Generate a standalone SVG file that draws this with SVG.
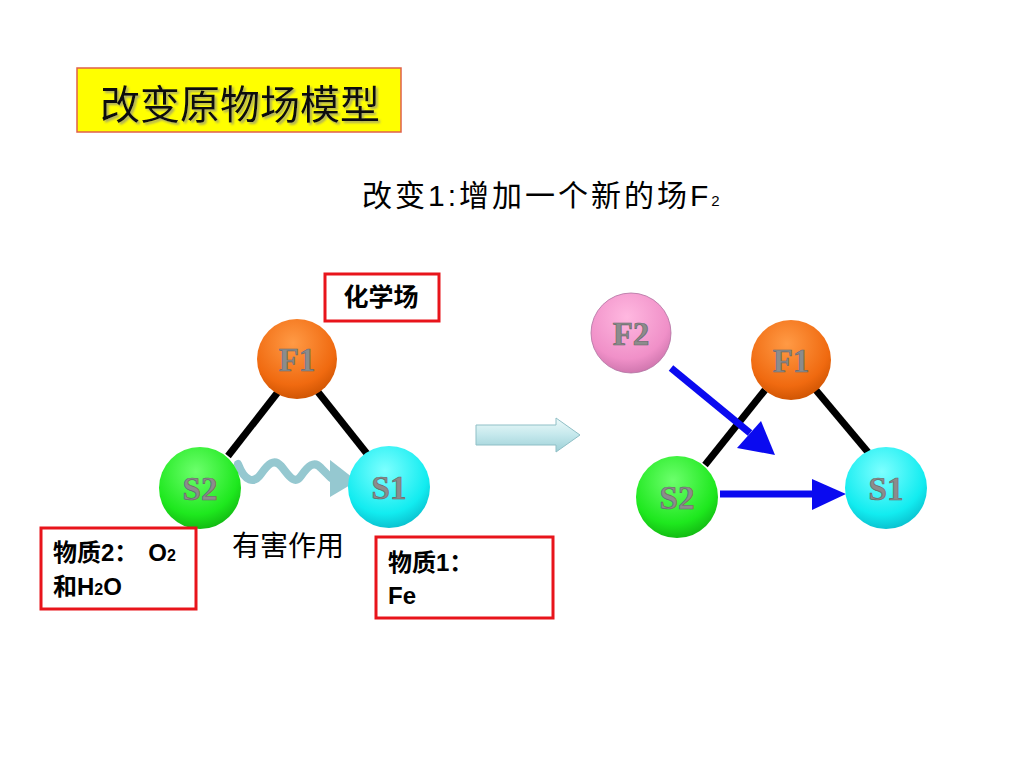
<svg xmlns="http://www.w3.org/2000/svg" width="1024" height="768" viewBox="0 0 1024 768">
<defs>
<style>
.cjk{font-family:"Liberation Sans","Noto Sans CJK SC",sans-serif}
.lbl{font-family:"Liberation Serif",serif;font-weight:bold;font-size:33px;fill:#8c8c8c;stroke:#6a6a6a;stroke-width:0.7;text-anchor:middle}
.redbox{fill:#fff;stroke:#e8141b;stroke-width:3}
.bond{stroke:#000;stroke-width:7;stroke-linecap:butt}
.blue{stroke:#0a0af0;stroke-width:7;fill:none}
</style>
<radialGradient id="gOr" cx="0.45" cy="0.3" r="0.75"><stop offset="0" stop-color="#ff9a45"/><stop offset="0.7" stop-color="#f06a10"/><stop offset="1" stop-color="#c85000"/></radialGradient>
<radialGradient id="gGr" cx="0.45" cy="0.3" r="0.75"><stop offset="0" stop-color="#6cff6c"/><stop offset="0.7" stop-color="#1ee81e"/><stop offset="1" stop-color="#10b010"/></radialGradient>
<radialGradient id="gCy" cx="0.45" cy="0.3" r="0.75"><stop offset="0" stop-color="#7dffff"/><stop offset="0.7" stop-color="#12ecf0"/><stop offset="1" stop-color="#08b8c8"/></radialGradient>
<radialGradient id="gPk" cx="0.45" cy="0.3" r="0.75"><stop offset="0" stop-color="#ffb8e0"/><stop offset="0.7" stop-color="#f090c8"/><stop offset="1" stop-color="#c870a8"/></radialGradient>
<linearGradient id="gArr" x1="0" y1="0" x2="0" y2="1"><stop offset="0" stop-color="#eefafa"/><stop offset="0.5" stop-color="#c4e8ec"/><stop offset="1" stop-color="#9ccfd6"/></linearGradient>
<filter id="sh" x="-10%" y="-10%" width="130%" height="130%"><feDropShadow dx="2" dy="2" stdDeviation="1" flood-color="#888" flood-opacity="0.7"/></filter>
</defs>

<g id="title">
<rect x="77" y="68" width="324" height="64" fill="#ffff00" stroke="#e0604a" stroke-width="1.5"/>
<text x="240" y="119" class="cjk" font-size="40" text-anchor="middle" fill="#111" filter="url(#sh)">改变原物场模型</text>
</g>

<g id="subtitle">
<text x="362" y="206" class="cjk" font-size="30" letter-spacing="3" fill="#000">改变1:增加一个新的场F<tspan font-size="15">2</tspan></text>
</g>

<g id="connectors">
<line class="bond" x1="278" y1="392" x2="228" y2="456"/>
<line class="bond" x1="318" y1="392" x2="368" y2="455"/>
<path d="M238 464 C245 482 254 484 261 474 S274 458 281 466 S294 486 301 476 S314 460 321 468 L331 478" fill="none" stroke="#95c8d0" stroke-width="8" stroke-linecap="round"/>
<polygon points="330,460 330,497 357,481" fill="#95c8d0"/>
<line class="bond" x1="765" y1="390" x2="705" y2="465"/>
<line class="bond" x1="815" y1="389" x2="872" y2="457"/>
<line class="blue" x1="671" y1="368" x2="750" y2="433"/>
<polygon points="737,448 761,421 775,455" fill="#0a0af0"/>
<line class="blue" x1="720" y1="494" x2="815" y2="494"/>
<polygon points="812,479 812,510 846,494" fill="#0a0af0"/>
</g>

<g id="F1-left">
<circle cx="297" cy="359" r="40" fill="url(#gOr)"/>
<text x="297" y="371" class="lbl">F1</text>
</g>
<g id="S2-left">
<circle cx="200" cy="488" r="41" fill="url(#gGr)"/>
<text x="200" y="500" class="lbl">S2</text>
</g>
<g id="S1-left">
<circle cx="389" cy="487" r="41" fill="url(#gCy)"/>
<text x="389" y="499" class="lbl">S1</text>
</g>

<g id="field-label">
<rect x="325" y="274" width="114" height="47" class="redbox"/>
<text x="381" y="306" class="cjk" font-size="25" font-weight="bold" text-anchor="middle">化学场</text>
</g>

<g id="substance2">
<rect x="41" y="528" width="155" height="81" class="redbox"/>
<text x="53" y="561" class="cjk" font-size="24" font-weight="bold">物质2：<tspan dx="10">O</tspan><tspan font-size="16">2</tspan></text>
<text x="53" y="595" class="cjk" font-size="24" font-weight="bold">和H<tspan font-size="16">2</tspan>O</text>
</g>

<g id="harm-label">
<text x="232" y="556" class="cjk" font-size="28">有害作用</text>
</g>

<g id="substance1">
<rect x="376" y="537" width="177" height="81" class="redbox"/>
<text x="388" y="571" class="cjk" font-size="24" font-weight="bold">物质1：</text>
<text x="388" y="604" class="cjk" font-size="24" font-weight="bold">Fe</text>
</g>

<g id="transform-arrow">
<polygon points="476,425 556,425 556,418 580,435 556,452 556,445 476,445" fill="url(#gArr)" stroke="#8fbfc6" stroke-width="1"/>
</g>

<g id="F2-right">
<circle cx="631" cy="333" r="40" fill="url(#gPk)" stroke="#b070a0" stroke-width="0.8"/>
<text x="631" y="345" class="lbl">F2</text>
</g>
<g id="F1-right">
<circle cx="791" cy="360" r="40" fill="url(#gOr)"/>
<text x="791" y="372" class="lbl">F1</text>
</g>
<g id="S2-right">
<circle cx="677" cy="497" r="41" fill="url(#gGr)"/>
<text x="677" y="509" class="lbl">S2</text>
</g>
<g id="S1-right">
<circle cx="886" cy="488" r="41" fill="url(#gCy)"/>
<text x="886" y="500" class="lbl">S1</text>
</g>
</svg>
